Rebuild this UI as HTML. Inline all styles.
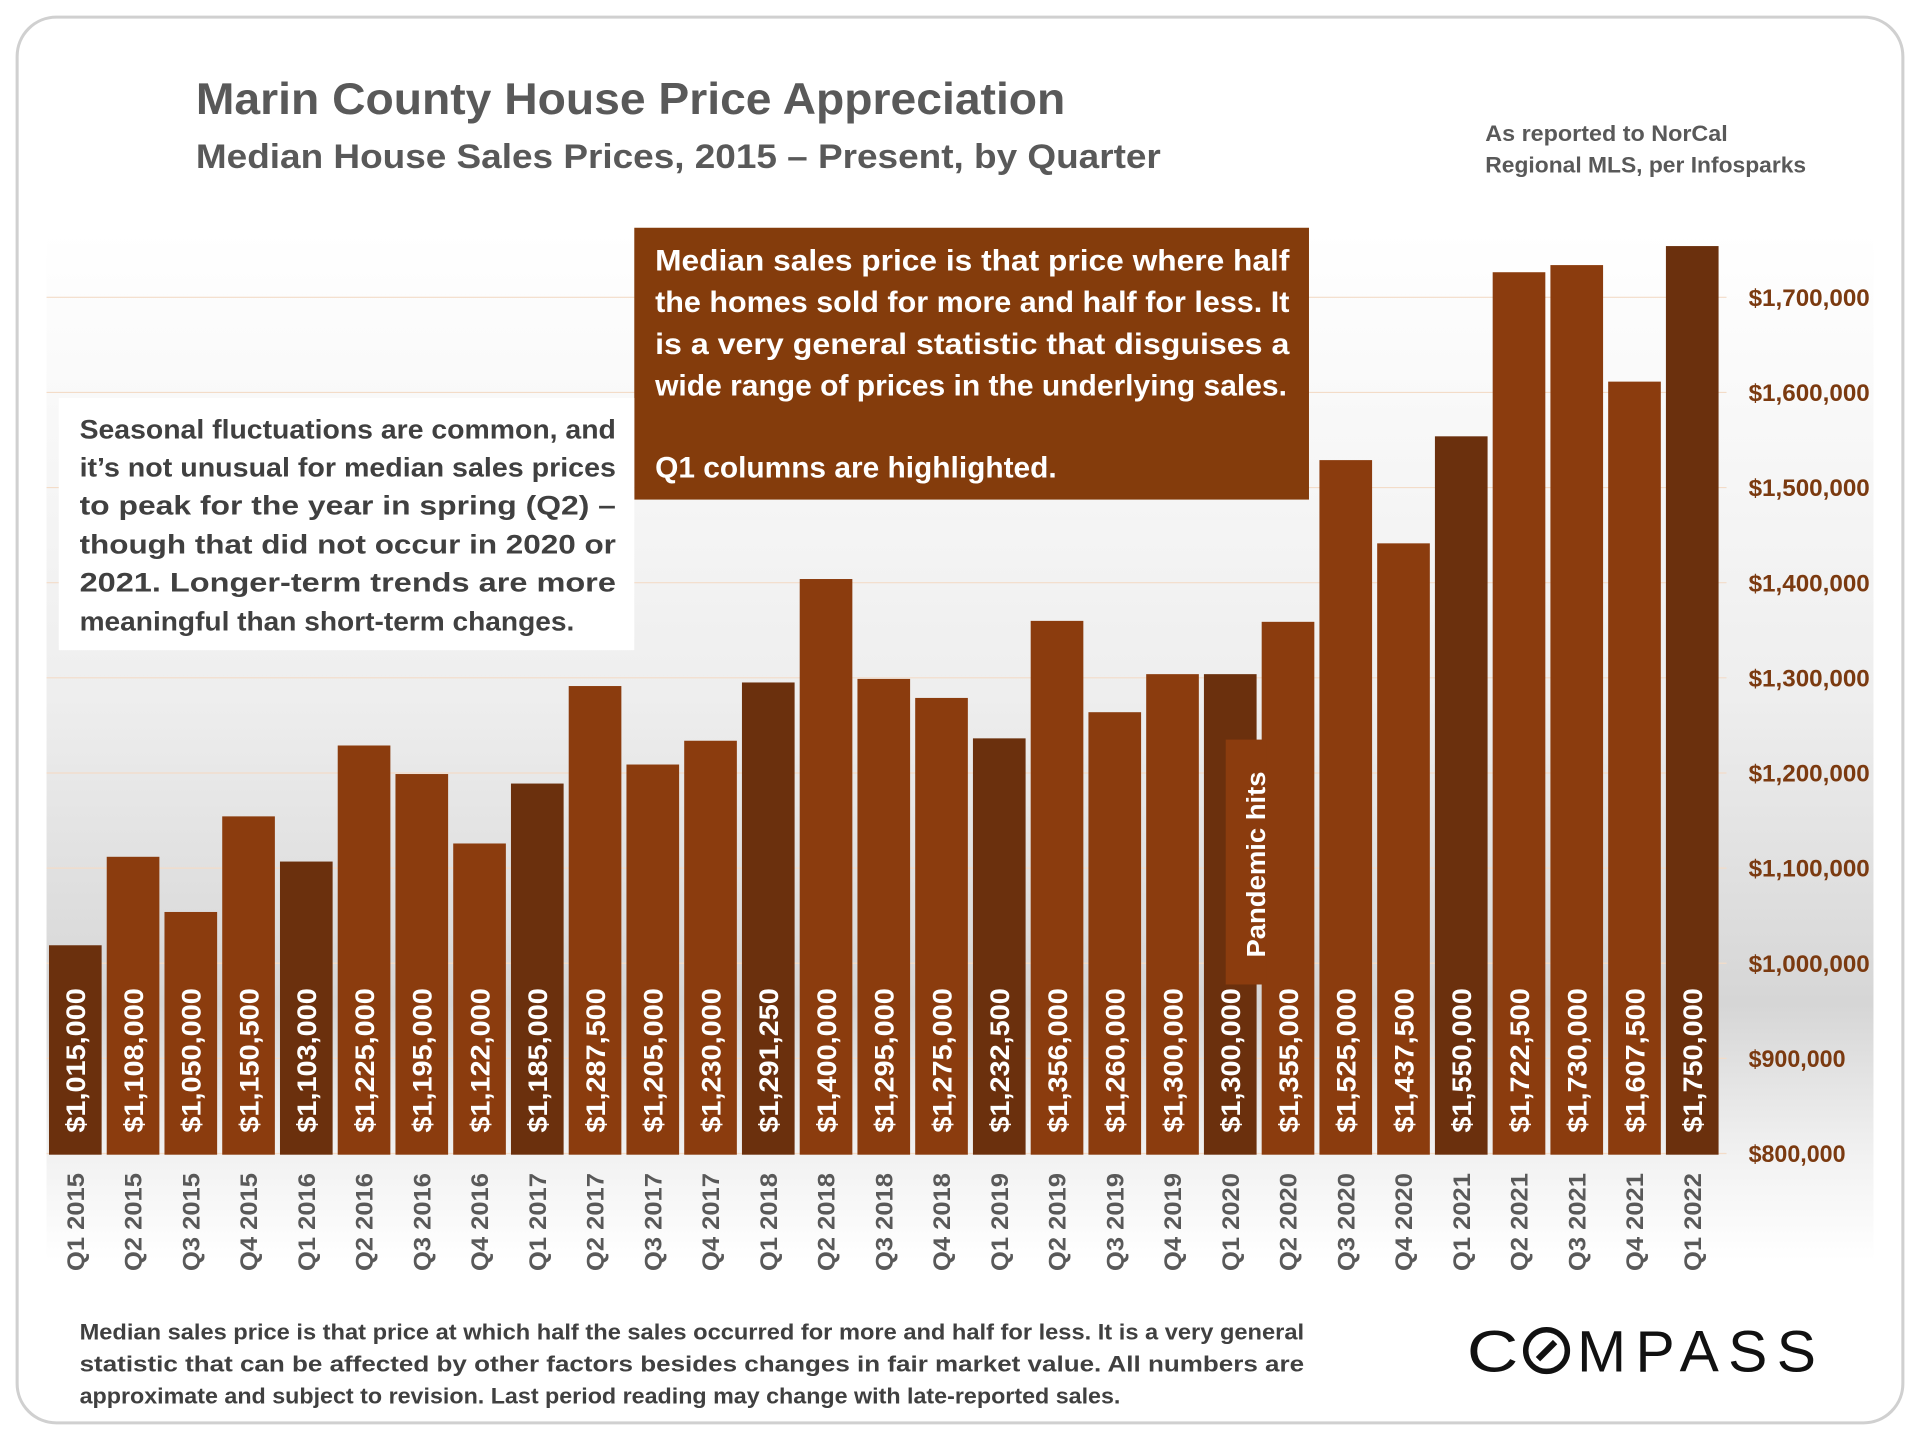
<!DOCTYPE html>
<html><head><meta charset="utf-8"><style>
html,body{margin:0;padding:0;background:#fff;width:1920px;height:1440px;overflow:hidden}
svg{display:block;font-family:"Liberation Sans",sans-serif;font-weight:bold}
</style></head><body>
<svg id="chart" width="1920" height="1440" viewBox="0 0 1568 1176" xmlns="http://www.w3.org/2000/svg">
<defs>
<linearGradient id="bg" x1="0" y1="0" x2="0" y2="1">
<stop offset="0" stop-color="#ffffff"/>
<stop offset="0.45" stop-color="#eeeeee"/>
<stop offset="0.75" stop-color="#d6d6d6"/>
<stop offset="0.9" stop-color="#f2f2f2"/>
<stop offset="1" stop-color="#ffffff"/>
</linearGradient>
</defs>
<rect x="14" y="14" width="1540" height="1148" rx="32" fill="#fff" stroke="#d0d0d0" stroke-width="2.5"/>
<rect x="38" y="190" width="1492" height="840" fill="url(#bg)"/>
<g id="grid"></g>
<g id="bars"></g>
<g id="xlabels"></g>
<g id="yticks"></g>
<text x="160" y="93" font-size="36" fill="#595959" textLength="710" lengthAdjust="spacingAndGlyphs">Marin County House Price Appreciation</text>
<text x="160" y="137" font-size="28" fill="#595959" textLength="788" lengthAdjust="spacingAndGlyphs">Median House Sales Prices, 2015 – Present, by Quarter</text>
<text font-size="18" fill="#595959"><tspan x="1213" y="115" textLength="198" lengthAdjust="spacingAndGlyphs">As reported to NorCal</tspan><tspan x="1213" y="141" textLength="262" lengthAdjust="spacingAndGlyphs">Regional MLS, per Infosparks</tspan></text>
<g>
<rect x="518" y="186" width="551" height="222" fill="#843c0c"/>
<text font-size="24" fill="#fff">
<tspan x="535" y="221" textLength="518" lengthAdjust="spacingAndGlyphs">Median sales price is that price where half</tspan>
<tspan x="535" y="255" textLength="518" lengthAdjust="spacingAndGlyphs">the homes sold for more and half for less. It</tspan>
<tspan x="535" y="289" textLength="518" lengthAdjust="spacingAndGlyphs">is a very general statistic that disguises a</tspan>
<tspan x="535" y="323" textLength="516" lengthAdjust="spacingAndGlyphs">wide range of prices in the underlying sales.</tspan>
<tspan x="535" y="390" textLength="328" lengthAdjust="spacingAndGlyphs">Q1 columns are highlighted.</tspan>
</text></g>
<g>
<rect x="48" y="325" width="470" height="206" fill="#fff"/>
<text font-size="22" fill="#404040">
<tspan x="65" y="358" textLength="438" lengthAdjust="spacingAndGlyphs">Seasonal fluctuations are common, and</tspan>
<tspan x="65" y="389" textLength="438" lengthAdjust="spacingAndGlyphs">it’s not unusual for median sales prices</tspan>
<tspan x="65" y="420" textLength="438" lengthAdjust="spacingAndGlyphs">to peak for the year in spring (Q2) –</tspan>
<tspan x="65" y="452" textLength="438" lengthAdjust="spacingAndGlyphs">though that did not occur in 2020 or</tspan>
<tspan x="65" y="483" textLength="438" lengthAdjust="spacingAndGlyphs">2021. Longer-term trends are more</tspan>
<tspan x="65" y="515" textLength="404" lengthAdjust="spacingAndGlyphs">meaningful than short-term changes.</tspan>
</text></g>
<g>
<rect x="1001" y="604" width="33" height="200" fill="#8b3c0e"/>
<text transform="translate(1033,782) rotate(-90)" font-size="21" fill="#fff" textLength="152" lengthAdjust="spacingAndGlyphs">Pandemic hits</text>
</g>
<text font-size="18" fill="#404040">
<tspan x="65" y="1094" textLength="1000" lengthAdjust="spacingAndGlyphs">Median sales price is that price at which half the sales occurred for more and half for less. It is a very general</tspan>
<tspan x="65" y="1120" textLength="1000" lengthAdjust="spacingAndGlyphs">statistic that can be affected by other factors besides changes in fair market value. All numbers are</tspan>
<tspan x="65" y="1146" textLength="850" lengthAdjust="spacingAndGlyphs">approximate and subject to revision. Last period reading may change with late-reported sales.</tspan>
</text>
<g font-weight="normal" fill="#111" font-size="48">
<text x="1198" y="1120" textLength="42" lengthAdjust="spacingAndGlyphs">C</text>
<circle cx="1263" cy="1103" r="17" fill="none" stroke="#111" stroke-width="4.5"/>
<line x1="1256" y1="1110" x2="1270" y2="1096" stroke="#111" stroke-width="5"/>
<text x="1288" y="1120" textLength="195" lengthAdjust="spacing">MPASS</text>
</g>
</svg>
<script>
const categories = ["Q1 2015","Q2 2015","Q3 2015","Q4 2015","Q1 2016","Q2 2016","Q3 2016","Q4 2016","Q1 2017","Q2 2017","Q3 2017","Q4 2017","Q1 2018","Q2 2018","Q3 2018","Q4 2018","Q1 2019","Q2 2019","Q3 2019","Q4 2019","Q1 2020","Q2 2020","Q3 2020","Q4 2020","Q1 2021","Q2 2021","Q3 2021","Q4 2021","Q1 2022"];
const values = [1015000,1108000,1050000,1150500,1103000,1225000,1195000,1122000,1185000,1287500,1205000,1230000,1291250,1400000,1295000,1275000,1232500,1356000,1260000,1300000,1300000,1355000,1525000,1437500,1550000,1722500,1730000,1607500,1750000];
const valueLabels = ["$1,015,000","$1,108,000","$1,050,000","$1,150,500","$1,103,000","$1,225,000","$1,195,000","$1,122,000","$1,185,000","$1,287,500","$1,205,000","$1,230,000","$1,291,250","$1,400,000","$1,295,000","$1,275,000","$1,232,500","$1,356,000","$1,260,000","$1,300,000","$1,300,000","$1,355,000","$1,525,000","$1,437,500","$1,550,000","$1,722,500","$1,730,000","$1,607,500","$1,750,000"];
const yTicks = [800000,900000,1000000,1100000,1200000,1300000,1400000,1500000,1600000,1700000];
const yTickLabels = ["$800,000","$900,000","$1,000,000","$1,100,000","$1,200,000","$1,300,000","$1,400,000","$1,500,000","$1,600,000","$1,700,000"];

const NS = "http://www.w3.org/2000/svg";
const yMin = 800000, yMax = 1700000, yBase = 939, yTop = 239.8, barBottom = 943;
function yScale(v){ return yBase - (v - yMin) / (yMax - yMin) * (yBase - yTop); }
const x0 = 61.5, x1 = 1382;
function xScale(i){ return x0 + i * (x1 - x0) / (categories.length - 1); }
const barW = 43;
function mk(tag, attrs, parent){ const e=document.createElementNS(NS,tag); for(const k in attrs) e.setAttribute(k,attrs[k]); parent.appendChild(e); return e; }

const grid = document.getElementById('grid');
yTicks.forEach((t,i)=>{
  const y = yScale(t) + 3;
  const l = mk('line',{x1:38,x2:1410,y1:y,y2:y,stroke:'#f3dcc8','stroke-width':1},grid);
  
  
  const tx = mk('text',{x:1428,y:y+7,'font-size':20,fill:'#7b3a10',textLength:(yTickLabels[i].length*9.9).toFixed(1),lengthAdjust:'spacingAndGlyphs'},document.getElementById('yticks'));
  tx.textContent = yTickLabels[i];
  
  
});

const bars = document.getElementById('bars');
const xl = document.getElementById('xlabels');
categories.forEach((c,i)=>{
  const cx = xScale(i), y = yScale(values[i]);
  const isQ1 = c.startsWith('Q1');
  const r = mk('rect',{x:cx-barW/2,y:y,width:barW,height:barBottom-y,fill:isQ1?'#6b300d':'#8b3c0e'},bars);
  
  
  const t = mk('text',{transform:`translate(${cx+8},925) rotate(-90)`,'font-size':22,fill:'#fff',textLength:118,lengthAdjust:'spacingAndGlyphs'},bars);
  t.textContent = valueLabels[i];
  
  
  const lx = mk('text',{transform:`translate(${cx+7},958) rotate(-90)`,'text-anchor':'end','font-size':20,fill:'#595959',textLength:80,lengthAdjust:'spacingAndGlyphs'},xl);
  lx.textContent = c;
  
  
});
</script>
</body></html>
